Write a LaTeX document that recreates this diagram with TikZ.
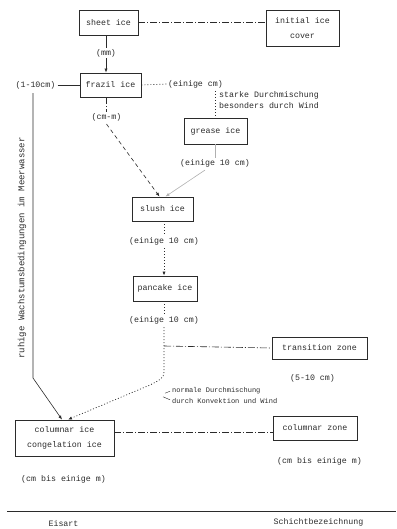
\documentclass[tikz,border=0pt]{standalone}
\usepackage{fontspec}
\setmonofont{Liberation Mono}
\usetikzlibrary{arrows.meta}
\definecolor{ink}{HTML}{2B2B2B}
\definecolor{lightink}{HTML}{B0B0B0}
\begin{document}
\begin{tikzpicture}[x=1pt,y=-1pt,
  every node/.style={font=\ttfamily\fontsize{8.3}{10}\selectfont, text=ink, inner sep=0pt},
  box/.style={draw=ink, line width=0.9pt, rectangle, align=center},
  twoline/.style={font=\ttfamily\fontsize{8.3}{15}\selectfont},
  conn/.style={draw=ink, line width=0.6pt},
  tip/.style={-{Latex[length=4pt,width=3.2pt]}},
  ddash/.style={conn, dash pattern=on 7pt off 2pt on 1pt off 2pt},
  dotline/.style={conn, line width=0.7pt, dash pattern=on 1pt off 2pt},
  dashline/.style={conn, dash pattern=on 4pt off 3pt},
  greyline/.style={draw=lightink, line width=0.6pt}
]
\useasboundingbox (0,0) rectangle (396,529);

% boxes
\node[box, minimum width=59pt, minimum height=25pt] (sheet) at (108.5,22.5) {sheet ice};
\node[box, twoline, minimum width=73pt, minimum height=36pt] (initial) at (302.5,28) {initial ice\\cover};
\node[box, minimum width=61pt, minimum height=24pt] (frazil) at (110.5,85) {frazil ice};
\node[box, minimum width=63pt, minimum height=26pt] (grease) at (215.5,131) {grease ice};
\node[box, minimum width=61pt, minimum height=24pt] (slush) at (162.5,209) {slush ice};
\node[box, minimum width=64pt, minimum height=25pt] (pancake) at (165,288.5) {pancake ice};
\node[box, minimum width=95pt, minimum height=22pt] (transition) at (319.5,348) {transition zone};
\node[box, twoline, minimum width=99pt, minimum height=36pt] (colice) at (64.5,438) {columnar ice\\congelation ice};
\node[box, minimum width=84pt, minimum height=24pt] (colzone) at (315,428) {columnar zone};

% labels
\node (mm) at (106,53) {(mm)};
\node (l110) at (35.5,85) {(1-10cm)};
\node (einigecm) at (195.5,84) {(einige cm)};
\node[anchor=west, align=left, font=\ttfamily\fontsize{8.3}{11}\selectfont] (starke) at (219,100.5) {starke Durchmischung\\besonders durch Wind};
\node (cmm) at (106.5,117) {(cm-m)};
\node (g10) at (215,163) {(einige 10 cm)};
\node (s10) at (164,241) {(einige 10 cm)};
\node (p10) at (164,320) {(einige 10 cm)};
\node (l510) at (312.5,378) {(5-10 cm)};
\node[anchor=west, align=left, font=\ttfamily\fontsize{7}{11}\selectfont] (normale) at (172,395.5) {normale Durchmischung\\durch Konvektion und Wind};
\node (czlab) at (319.5,461) {(cm bis einige m)};
\node (cilab) at (63.5,479) {(cm bis einige m)};
\node (eisart) at (63.5,524) {Eisart};
\node (schicht) at (318.5,522) {Schichtbezeichnung};
\node[rotate=90, font=\ttfamily\fontsize{9}{10}\selectfont] (ruhige) at (22,248) {ruhige Wachstumsbedingungen im Meerwasser};

% helper coordinates
\coordinate (bendL) at (33,378);
\coordinate (arrL) at (62,0);
\coordinate (arrD) at (68,0);
\coordinate (pbend) at (164,372);
\coordinate (tz) at (164,346);
\coordinate (lineL) at (7,511);
\coordinate (lineR) at (396,511);

% connectors
\draw[ddash] (sheet.east) -- (initial.west |- sheet.east);
\draw[conn] (sheet.south -| mm) -- ([yshift=1pt]mm.north);
\draw[conn, tip] ([yshift=-1pt]mm.south) -- (frazil.north -| mm);
\draw[conn] ([xshift=2pt]l110.east) -- (frazil.west);
\draw[conn, tip] ([yshift=-4pt]l110.south -| bendL) -- (bendL) -- (colice.north -| arrL);
\draw[dotline] (frazil.east) -- ([xshift=-1pt]einigecm.west);
\draw[dotline] ([yshift=-3pt]einigecm.south -| grease.north) -- (grease.north);
\draw[ddash] (frazil.south -| cmm) -- ([yshift=1pt]cmm.north);
\draw[dashline, tip] ([yshift=-3pt]cmm.south) -- ([xshift=-3pt]slush.north);
\draw[greyline] (grease.south -| g10) -- ([yshift=1pt]g10.north);
\draw[greyline, tip] ([xshift=-10pt,yshift=-3pt]g10.south) -- ([xshift=3pt]slush.north);
\draw[dotline] (slush.south -| s10) -- ([yshift=1pt]s10.north);
\draw[dotline, tip] ([yshift=-3pt]s10.south) -- (pancake.north -| s10);
\draw[dotline] (pancake.south -| p10) -- ([yshift=1pt]p10.north);
\draw[dotline, tip] ([yshift=-3pt]p10.south) -- (pbend) .. controls (164,378) and (160,380) .. (150,385) -- (colice.north -| arrD);
\draw[ddash] (tz) -- (transition.west);
\draw[ddash] ([yshift=6pt]colice.east) -- ([yshift=-4pt]colzone.west);
\draw[conn, line width=0.8pt] (lineL) -- (lineR);
% small leaders at the mixing note
\draw[conn, line width=0.4pt] ([xshift=-2pt,yshift=-4pt]normale.north west) -- ++(-5,2);
\draw[conn, line width=0.4pt] ([xshift=-2pt,yshift=4pt]normale.south west) .. controls ++(-3,-2) .. ++(-7,-3);
\end{tikzpicture}
\end{document}
